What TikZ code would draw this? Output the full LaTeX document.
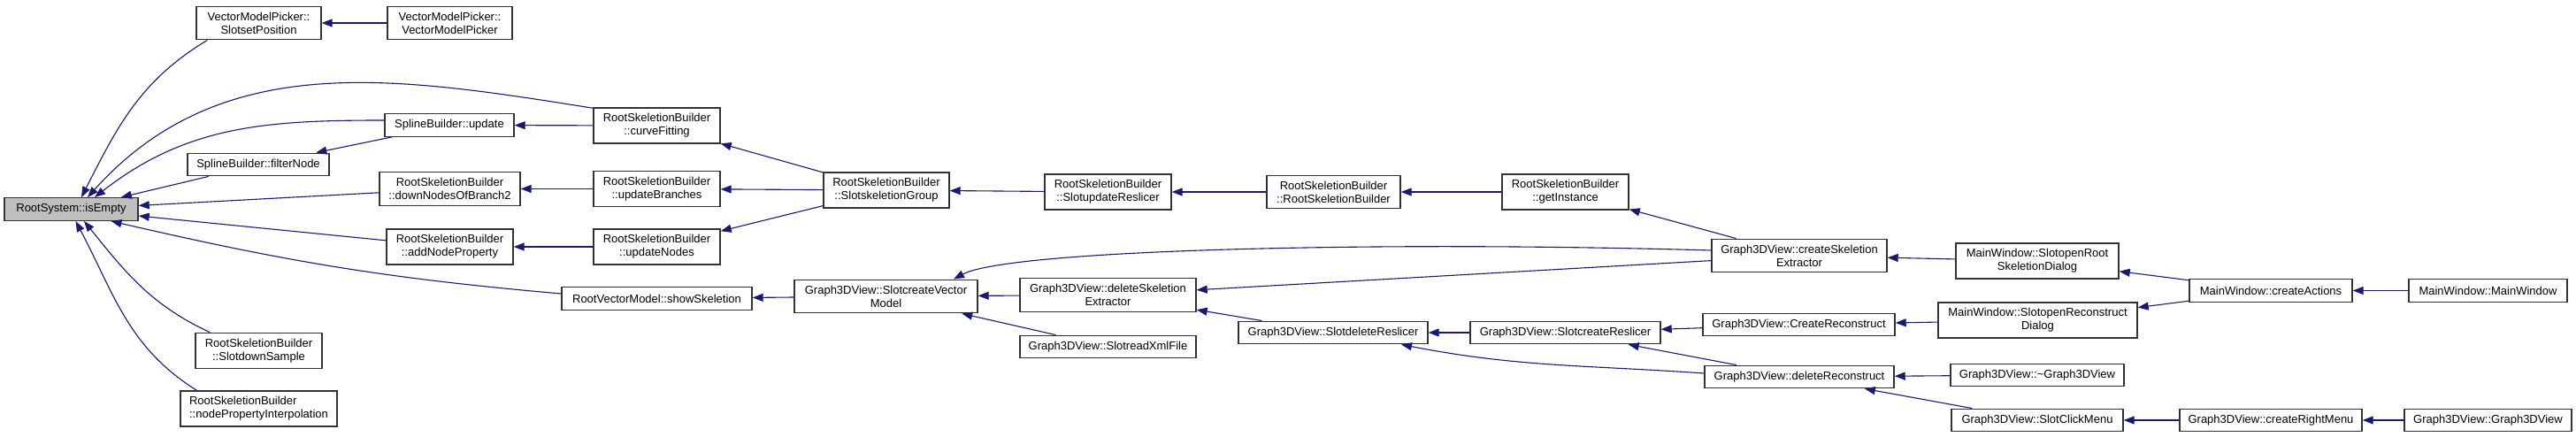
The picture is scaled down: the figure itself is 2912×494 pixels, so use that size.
\documentclass[tikz,border=0pt]{standalone}
\usepackage{fontspec}
\setmainfont{Liberation Sans}
\usepackage{tikz}
\usetikzlibrary{arrows.meta}
\usepackage{xcolor}
\definecolor{edgeblue}{RGB}{25,25,112}
\definecolor{boxgray}{RGB}{191,191,191}

\begin{document}
\begin{tikzpicture}[x=1pt,y=1pt,
  fnc/.style={draw=black!80,line width=1.4pt,rectangle,fill=white,minimum height=25.5pt,
              inner xsep=3pt,inner ysep=6.5pt,font=\fontsize{13}{15}\selectfont,align=center},
  cur/.style={fnc,fill=boxgray},
  arr/.style={{Triangle[length=12pt,width=9pt]}-,line width=1.1pt,draw=edgeblue}
]
\useasboundingbox (0,0) rectangle (2912,494);

% Current function
\node[cur,minimum width=151pt] (isEmpty) at (80.5,257.5) {RootSystem::isEmpty};

% Direct callers
\node[fnc,minimum width=141pt] (vmpSlot) at (292.5,468) {VectorModelPicker::\\SlotsetPosition};
\node[fnc,minimum width=160pt] (sbFilter) at (292,308) {SplineBuilder::filterNode};
\node[fnc,minimum width=143pt] (rsbDownSample) at (292.5,97.5) {RootSkeletionBuilder\\::SlotdownSample};
\node[fnc,minimum width=177pt,align=left] (rsbInterp) at (292.5,32) {RootSkeletionBuilder\\::nodePropertyInterpolation};
\node[fnc,minimum width=146pt] (sbUpdate) at (508,352.5) {SplineBuilder::update};
\node[fnc,minimum width=159pt] (rsbDown) at (508.5,280.5) {RootSkeletionBuilder\\::downNodesOfBranch2};
\node[fnc,minimum width=143pt] (rsbAddProp) at (508.5,215) {RootSkeletionBuilder\\::addNodeProperty};
\node[fnc,minimum width=215pt] (rvmShow) at (742.5,156.5) {RootVectorModel::showSkeletion};
\node[fnc,minimum width=143pt] (rsbCurve) at (742.5,352) {RootSkeletionBuilder\\::curveFitting};

% RootSkeletionBuilder chain
\node[fnc,minimum width=141pt] (vmpCtor) at (508.5,468) {VectorModelPicker::\\VectorModelPicker};
\node[fnc,minimum width=143pt] (rsbBranches) at (742.5,280.5) {RootSkeletionBuilder\\::updateBranches};
\node[fnc,minimum width=143pt] (rsbNodes) at (742.5,215) {RootSkeletionBuilder\\::updateNodes};
\node[fnc,minimum width=142pt] (rsbGroup) at (1002,279) {RootSkeletionBuilder\\::SlotskeletionGroup};
\node[fnc,minimum width=143pt] (rsbReslicer) at (1252.5,277) {RootSkeletionBuilder\\::SlotupdateReslicer};
\node[fnc,minimum width=151pt] (rsbCtor) at (1507.5,277) {RootSkeletionBuilder\\::RootSkeletionBuilder};
\node[fnc,minimum width=143pt] (rsbGetInst) at (1769.5,277) {RootSkeletionBuilder\\::getInstance};

% Graph3DView
\node[fnc,minimum width=207pt] (g3CreateVM) at (1001.5,159) {Graph3DView::SlotcreateVector\\Model};
\node[fnc,minimum width=199pt] (g3DelSkel) at (1252.5,160.5) {Graph3DView::deleteSkeletion\\Extractor};
\node[fnc,minimum width=199pt] (g3ReadXml) at (1252.5,102) {Graph3DView::SlotreadXmlFile};
\node[fnc,minimum width=214pt] (g3DelResl) at (1507,118) {Graph3DView::SlotdeleteReslicer};
\node[fnc,minimum width=215pt] (g3CreateResl) at (1769.5,118) {Graph3DView::SlotcreateReslicer};
\node[fnc,minimum width=198pt] (g3CreateSkel) at (2034,205) {Graph3DView::createSkeletion\\Extractor};
\node[fnc,minimum width=217pt] (g3CreateRecon) at (2033.5,127) {Graph3DView::CreateReconstruct};
\node[fnc,minimum width=214pt] (g3DelRecon) at (2034,68) {Graph3DView::deleteReconstruct};
\node[fnc,minimum width=196pt] (g3Dtor) at (2303,70) {Graph3DView::\textasciitilde Graph3DView};
\node[fnc,minimum width=194pt] (g3ClickMenu) at (2303,19) {Graph3DView::SlotClickMenu};
\node[fnc,minimum width=206pt] (g3RightMenu) at (2567,19) {Graph3DView::createRightMenu};
\node[fnc,minimum width=189pt] (g3Ctor) at (2812.5,19) {Graph3DView::Graph3DView};

% MainWindow
\node[fnc,minimum width=184pt] (mwOpenRoot) at (2303,199) {MainWindow::SlotopenRoot\\SkeletionDialog};
\node[fnc,minimum width=225pt] (mwOpenRecon) at (2303.5,132) {MainWindow::SlotopenReconstruct\\Dialog};
\node[fnc,minimum width=184pt] (mwActions) at (2567,165.5) {MainWindow::createActions};
\node[fnc,minimum width=179pt] (mwCtor) at (2812.5,165.5) {MainWindow::MainWindow};

% Calls into isEmpty
\draw[arr] ([xshift=11.5pt]isEmpty.north) to[out=63,in=211] ([xshift=13pt]vmpSlot.south west);
\draw[arr] ([xshift=18.5pt]isEmpty.north) to[out=48,in=171] ([yshift=-1pt]rsbCurve.north west);
\draw[arr] ([xshift=26.5pt]isEmpty.north) to[out=38,in=180] ([yshift=5.5pt]sbUpdate.west);
\draw[arr] (isEmpty) -- (sbFilter);
\draw[arr] (isEmpty) -- (rsbDown);
\draw[arr] (isEmpty) -- (rsbAddProp);
\draw[arr] ([xshift=45pt]isEmpty.south) to[out=-13,in=175] ([yshift=5.5pt]rvmShow.west);
\draw[arr] ([xshift=14.5pt]isEmpty.south) to[out=-51,in=155] ([xshift=17pt]rsbDownSample.north west);
\draw[arr] ([xshift=5pt]isEmpty.south) to[out=-62,in=148] ([xshift=19pt]rsbInterp.north west);

% Upper callers
\draw[arr] (vmpSlot) -- (vmpCtor);
\draw[arr] (sbFilter) -- (sbUpdate);
\draw[arr] (sbUpdate) -- (rsbCurve);
\draw[arr] (rsbDown) -- (rsbBranches);
\draw[arr] (rsbAddProp) -- (rsbNodes);
\draw[arr] (rsbCurve) -- (rsbGroup);
\draw[arr] (rsbBranches) -- (rsbGroup);
\draw[arr] (rsbNodes) -- (rsbGroup);
\draw[arr] (rsbGroup) -- (rsbReslicer);
\draw[arr] (rsbReslicer) -- (rsbCtor);
\draw[arr] (rsbCtor) -- (rsbGetInst);
\draw[arr] (rsbGetInst) -- (g3CreateSkel);

% Graph3DView calls
\draw[arr] (rvmShow) -- (g3CreateVM);
\draw[arr] ([xshift=76.5pt]g3CreateVM.north) .. controls +(62,33) and +(-384,11) .. ([yshift=6pt]g3CreateSkel.west);
\draw[arr] (g3CreateVM) -- (g3DelSkel);
\draw[arr] (g3CreateVM) -- (g3ReadXml);
\draw[arr] (g3DelSkel) -- (g3CreateSkel);
\draw[arr] (g3DelSkel) -- (g3DelResl);
\draw[arr] (g3DelResl) -- (g3CreateResl);
\draw[arr] ([xshift=77pt]g3DelResl.south) to[out=-11,in=176] ([yshift=4pt]g3DelRecon.west);
\draw[arr] (g3CreateResl) -- (g3CreateRecon);
\draw[arr] (g3CreateResl) -- (g3DelRecon);
\draw[arr] (g3DelRecon) -- (g3Dtor);
\draw[arr] (g3DelRecon) -- (g3ClickMenu);
\draw[arr] (g3ClickMenu) -- (g3RightMenu);
\draw[arr] (g3RightMenu) -- (g3Ctor);

% MainWindow calls
\draw[arr] (g3CreateSkel) -- (mwOpenRoot);
\draw[arr] (g3CreateRecon) -- (mwOpenRecon);
\draw[arr] (mwOpenRoot) -- (mwActions);
\draw[arr] (mwOpenRecon) -- (mwActions);
\draw[arr] (mwActions) -- (mwCtor);

\end{tikzpicture}
\end{document}
